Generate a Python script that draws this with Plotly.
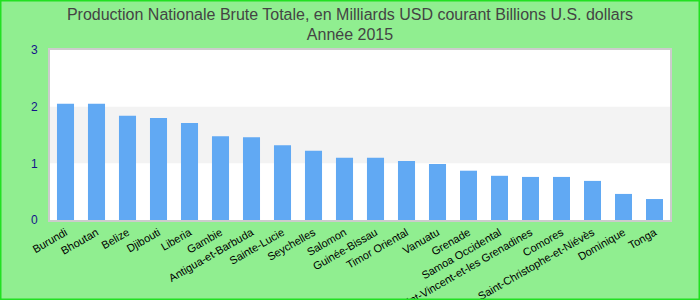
import plotly.graph_objects as go

countries = ["Burundi", "Bhoutan", "Belize", "Djibouti", "Liberia", "Gambie",
             "Antigua-et-Barbuda", "Sainte-Lucie", "Seychelles", "Salomon",
             "Guinée-Bissau", "Timor Oriental", "Vanuatu", "Grenade",
             "Samoa Occidental", "Saint-Vincent-et-les Grenadines", "Comores",
             "Saint-Christophe-et-Niévès", "Dominique", "Tonga"]
values = [2.05, 2.05, 1.84, 1.80, 1.71, 1.48, 1.46, 1.32, 1.22, 1.10,
          1.10, 1.04, 0.99, 0.87, 0.78, 0.76, 0.76, 0.69, 0.46, 0.37]
y_ticks = [0, 1, 2, 3]

ML, MR, MT, MB = 50, 30, 50, 80
W, H = 700, 300
PW, PH = W - ML - MR, H - MT - MB

fig = go.Figure(go.Bar(x=countries, y=values, marker_color="#61a9f3",
                       marker_line_width=0))

fig.update_layout(
    width=W, height=H,
    margin=dict(l=ML, r=MR, t=MT, b=MB, autoexpand=False),
    paper_bgcolor="#90ee90",
    plot_bgcolor="white",
    bargap=0.45,
    showlegend=False,
    title=dict(text="Production Nationale Brute Totale, en Milliards USD courant Billions U.S. dollars<br>Année 2015",
               x=0.5, xanchor="center", y=0.935, yanchor="middle",
               font=dict(family="Liberation Sans, Arial", size=16, color="#444444")),
    font=dict(family="Liberation Sans, Arial"),
    shapes=[
        dict(type="rect", xref="paper", yref="y", x0=0, x1=1, y0=1, y1=2,
             fillcolor="#f3f3f3", line_width=0, layer="below"),
        dict(type="rect", xref="paper", yref="paper",
             x0=-ML / PW + 0.5 / PW, x1=1 + MR / PW - 0.5 / PW,
             y0=-MB / PH + 0.5 / PH, y1=1 + MT / PH - 0.5 / PH,
             line=dict(color="#22e022", width=2), fillcolor="rgba(0,0,0,0)"),
    ],
)
fig.update_xaxes(tickangle=-30, tickfont=dict(size=11, color="black"), automargin=False,
                 showline=True, linecolor="#cccccc", linewidth=2, mirror=True,
                 ticks="", showgrid=False)
fig.update_yaxes(range=[0, 3], tickvals=y_ticks, tickfont=dict(size=12, color="#14148a"),
                 automargin=False,
                 showline=True, linecolor="#cccccc", linewidth=2, mirror=True,
                 showgrid=False, zeroline=False, ticks="outside", ticklen=8,
                 tickcolor="rgba(0,0,0,0)")

fig.write_html("out.html")
